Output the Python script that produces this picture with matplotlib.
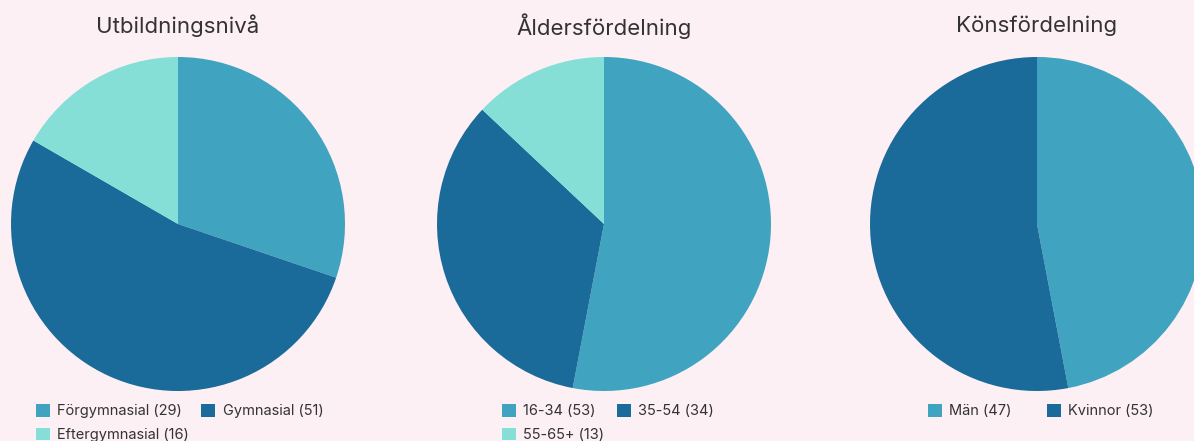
import matplotlib.pyplot as plt
from matplotlib.patches import Patch

plt.rcParams['font.family'] = ['Inter', 'DejaVu Sans']

titles = ['Utbildningsnivå', 'Åldersfördelning', 'Könsfördelning']

edu_labels = ['Förgymnasial', 'Gymnasial', 'Eftergymnasial']
edu_values = [29, 51, 16]

age_labels = ['16-34', '35-54', '55-65+']
age_values = [53, 34, 13]

sex_labels = ['Män', 'Kvinnor']
sex_values = [47, 53]

colors = ['#40a3bf', '#1a6a9a', '#86dfd7']
bg = '#fdf0f5'
text_color = '#333333'

W, H = 1194, 441
fig = plt.figure(figsize=(W / 100, H / 100), dpi=100, facecolor=bg)

# pie centres in pixels (x from left, y from top), radius in pixels
centres = [178, 604, 1037]
cy = 224
r = 167
legend_x = [36, 502, 928]
col_space = [0.85, 0.85, 2.4]

datasets = [(edu_labels, edu_values), (age_labels, age_values), (sex_labels, sex_values)]

for i, (labels, values) in enumerate(datasets):
    pad = 1.02
    size = 2 * r * pad
    ax = fig.add_axes([(centres[i] - r * pad) / W, (H - cy - r * pad) / H, size / W, size / H])
    ax.pie(values, colors=colors[:len(values)], startangle=90, counterclock=False,
           wedgeprops=dict(linewidth=0))
    ax.set_xlim(-pad, pad)
    ax.set_ylim(-pad, pad)
    ax.set_aspect('equal')
    ax.axis('off')

    fig.text(centres[i] / W, (H - 26) / H, titles[i], ha='center', va='center',
             fontsize=16, color=text_color)

    handles = [Patch(facecolor=colors[j], edgecolor='none') for j in range(len(values))]
    leg_labels = [f'{labels[j]} ({values[j]})' for j in range(len(values))]
    # legend fills column-wise; reorder so it reads row-wise
    order = [0, 2, 1] if len(values) == 3 else [0, 1]
    fig.legend([handles[k] for k in order], [leg_labels[k] for k in order],
               loc='upper left', bbox_to_anchor=(legend_x[i] / W, (H - 404) / H), ncol=2,
               frameon=False, fontsize=10.5, handlelength=0.95, handleheight=0.95,
               handletextpad=0.5, columnspacing=col_space[i], labelspacing=0.65,
               labelcolor=text_color, borderaxespad=0, borderpad=0)

fig.savefig('out.png', dpi=100, facecolor=bg)
